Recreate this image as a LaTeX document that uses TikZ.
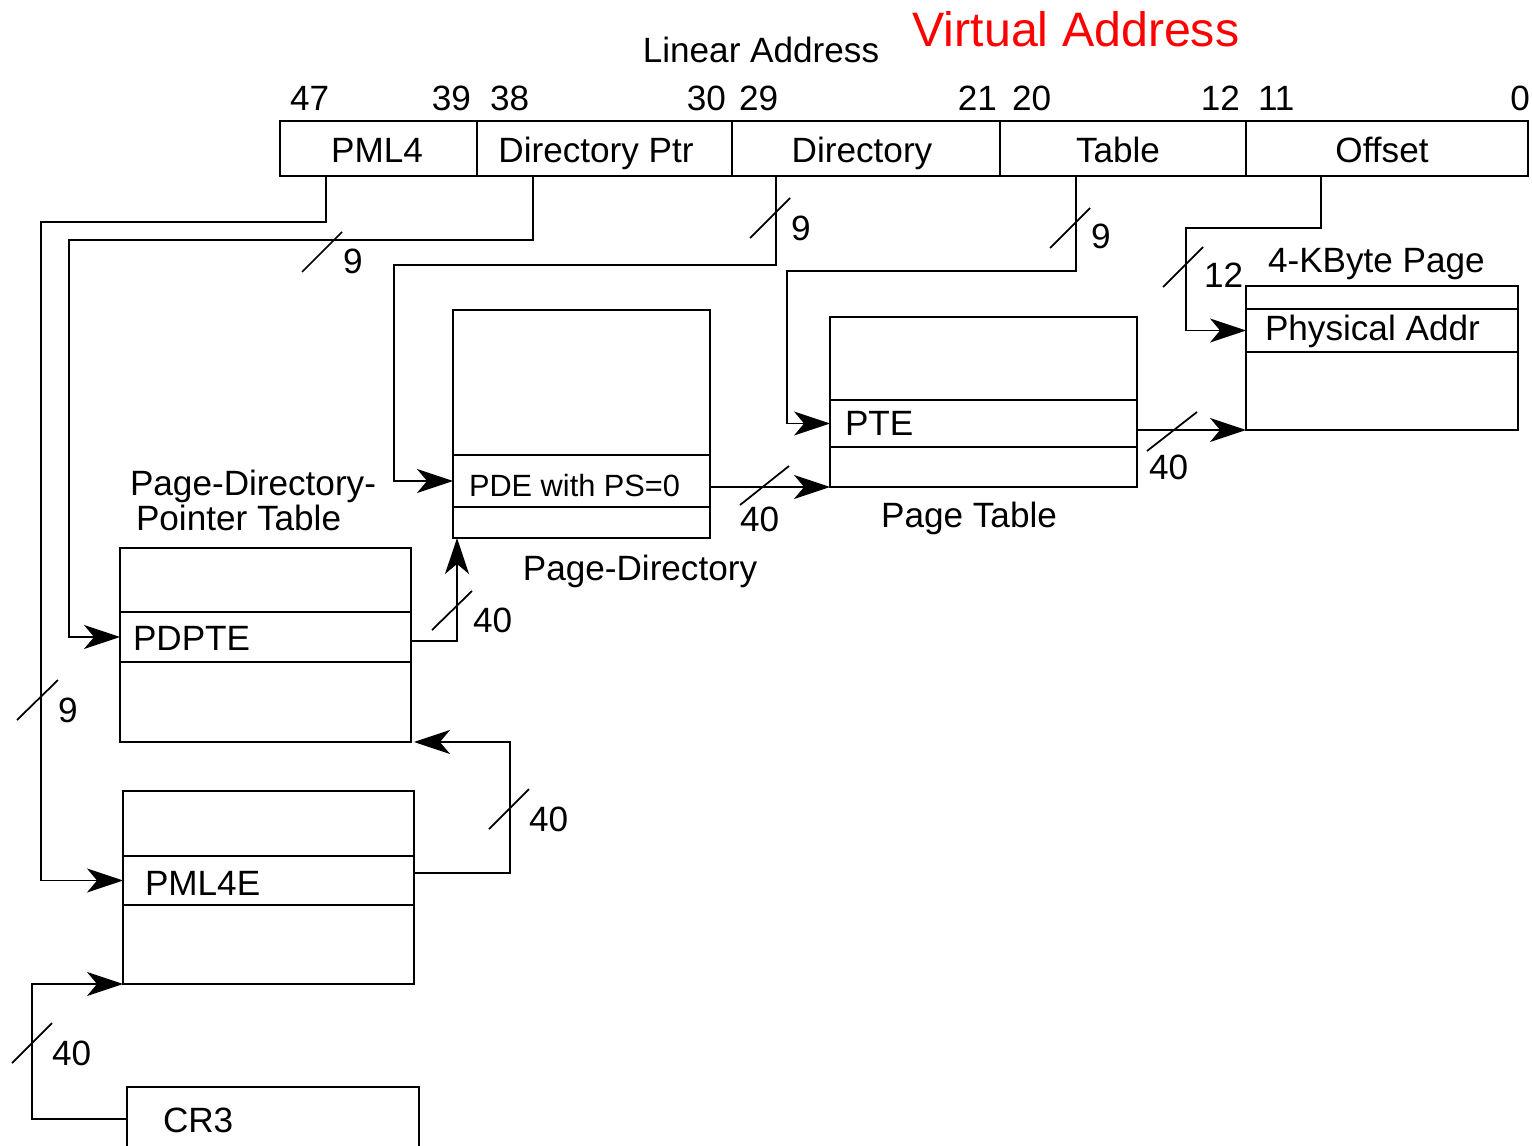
\documentclass[tikz,border=0pt]{standalone}
\usepackage{fontspec}
\setmainfont{Liberation Sans}
\usetikzlibrary{arrows.meta}
\begin{document}
\begin{tikzpicture}[x=0.02cm,y=-0.02cm,
  every node/.style={inner sep=0pt, outer sep=0pt},
  txt/.style={font=\fontsize{20pt}{24pt}\selectfont},
  small/.style={font=\fontsize{17.5pt}{21pt}\selectfont},
  big/.style={font=\fontsize{27.5pt}{32pt}\selectfont, text=red},
  field/.style={draw, line width=1.4pt, minimum height=1.1cm},
  tbl/.style={draw, line width=1.6pt},
  rowbox/.style={draw, line width=1.0pt},
  conn/.style={line width=1.0pt},
  arr/.style={conn, -{Stealth[length=0.72cm,width=0.48cm,inset=0.2cm]}},
  tick/.style={line width=1.0pt}
]
\clip (0,0) rectangle (1532,1146);
\fill[white] (0,0) rectangle (1532,1146);

% ---------- titles ----------
\node[txt, anchor=base] (linaddr) at (761,62) {Linear Address};
\node[big, anchor=base] (virtaddr) at (1076,47) {Virtual Address};

% ---------- linear address register ----------
\node[field, minimum width=3.94cm] (f1) at (378.5,148.5) {};
\node[field, minimum width=5.10cm] (f2) at (604.5,148.5) {};
\node[field, minimum width=5.36cm] (f3) at (866,148.5) {};
\node[field, minimum width=4.92cm] (f4) at (1123,148.5) {};
\node[field, minimum width=5.64cm] (f5) at (1387,148.5) {};
\node[txt, anchor=base] (l1) at (377,162) {PML4};
\node[txt, anchor=base] (l2) at (596,162) {Directory Ptr};
\node[txt, anchor=base] (l3) at (862,162) {Directory};
\node[txt, anchor=base] (l4) at (1118,162) {Table};
\node[txt, anchor=base] (l5) at (1382,162) {Offset};

% bit numbers
\node[txt, anchor=base west] (b47) at (290,110) {47};
\node[txt, anchor=base east] (b39) at (471,110) {39};
\node[txt, anchor=base west] (b38) at (490,110) {38};
\node[txt, anchor=base east] (b30) at (726,110) {30};
\node[txt, anchor=base west] (b29) at (739,110) {29};
\node[txt, anchor=base east] (b21) at (997,110) {21};
\node[txt, anchor=base west] (b20) at (1012,110) {20};
\node[txt, anchor=base east] (b12) at (1240,110) {12};
\node[txt, anchor=base west] (b11) at (1258,110) {11};
\node[txt, anchor=base east] (b0) at (1530,110) {0};

% ---------- tables ----------
% PML4 table
\node[rowbox, minimum width=5.82cm, minimum height=0.98cm] (pml4e-row) at (268.5,880.5) {};
\node[tbl, minimum width=5.82cm, minimum height=3.86cm] (pml4e) at (268.5,887.5) {};
\node[txt, anchor=base west] (pml4e-lbl) at (145,895) {PML4E};

% Page-Directory-Pointer Table
\node[rowbox, minimum width=5.82cm, minimum height=1.0cm] (pdpte-row) at (265.5,637) {};
\node[tbl, minimum width=5.82cm, minimum height=3.88cm] (pdpt) at (265.5,645) {};
\node[txt, anchor=base west] (pdpte-lbl) at (133,650) {PDPTE};
\node[txt, anchor=base west] (pdpt-t1) at (130,495) {Page-Directory-};
\node[txt, anchor=base west] (pdpt-t2) at (136,530) {Pointer Table};

% Page-Directory
\node[rowbox, minimum width=5.14cm, minimum height=1.04cm] (pd-row) at (581.5,481) {};
\node[tbl, minimum width=5.14cm, minimum height=4.56cm] (pd) at (581.5,424) {};
\node[small, anchor=base west] (pd-lbl) at (469,496) {PDE with PS=0};
\node[txt, anchor=base] (pd-t) at (640,580) {Page-Directory};

% Page Table
\node[rowbox, minimum width=6.14cm, minimum height=0.94cm] (pte-row) at (983.5,423.5) {};
\node[tbl, minimum width=6.14cm, minimum height=3.4cm] (pt) at (983.5,402) {};
\node[txt, anchor=base west] (pte-lbl) at (845,435) {PTE};
\node[txt, anchor=base] (pt-t) at (969,527) {Page Table};

% 4-KByte Page
\node[rowbox, minimum width=5.44cm, minimum height=0.86cm] (phys-row) at (1382,330.5) {};
\node[tbl, minimum width=5.44cm, minimum height=2.88cm] (page) at (1382,358) {};
\node[txt, anchor=base west] (phys-lbl) at (1265,340) {Physical Addr};
\node[txt, anchor=base west] (page-t) at (1268,272) {4-KByte Page};

% CR3
\node[tbl, minimum width=5.84cm, minimum height=1.28cm] (cr3) at (273,1119) {};
\node[txt, anchor=base west] (cr3-lbl) at (163,1132) {CR3};

% ---------- connectors from the linear address ----------
\draw[arr] ([xshift=-1.05cm]f1.south) |- (41,222) |- (pml4e-row.west);
\draw[arr] ([xshift=-1.43cm]f2.south) |- (69,240) |- (pdpte-row.west);
\draw[arr] ([xshift=-1.8cm]f3.south) |- (394,265) |- (pd-row.west);
\draw[arr] ([xshift=-0.94cm]f4.south) |- (787,271) |- (pte-row.west);
\draw[arr] ([xshift=-1.32cm]f5.south) |- (1186,228) |- (phys-row.west);

% ---------- table-to-table connectors ----------
\draw[arr] (cr3.west) -| (32,984) -- (pml4e.south west);
\draw[arr] ([yshift=0.15cm]pml4e-row.east) -| (510,742) -- ([xshift=0.06cm]pdpt.south east);
\draw[arr] ([yshift=-0.08cm]pdpte-row.east) -| ([xshift=0.08cm]pd.south west);
\draw[arr] ([yshift=-0.12cm]pd-row.east) -- (pt.south west);
\draw[arr] ([yshift=-0.13cm]pte-row.east) -- (page.south west);

% ---------- width ticks ----------
\draw[tick] (302,272) -- (342,232);
\node[txt, anchor=base west] (w1) at (343,273) {9};
\draw[tick] (17,720) -- (58,680);
\node[txt, anchor=base west] (w2) at (58,722) {9};
\draw[tick] (750,238) -- (790,198);
\node[txt, anchor=base west] (w3) at (791,240) {9};
\draw[tick] (1050,248) -- (1090,208);
\node[txt, anchor=base west] (w4) at (1091,248) {9};
\draw[tick] (1163,287) -- (1203,247);
\node[txt, anchor=base west] (w5) at (1204,287) {12};
\draw[tick] (12,1063) -- (52,1023);
\node[txt, anchor=base west] (w6) at (52,1065) {40};
\draw[tick] (489,829) -- (529,789);
\node[txt, anchor=base west] (w7) at (529,831) {40};
\draw[tick] (432,630) -- (472,591);
\node[txt, anchor=base west] (w8) at (473,632) {40};
\draw[tick] (740,505) -- (789,466);
\node[txt, anchor=base west] (w9) at (740,531) {40};
\draw[tick] (1147,451) -- (1197,412);
\node[txt, anchor=base west] (w10) at (1149,479) {40};
\end{tikzpicture}
\end{document}
